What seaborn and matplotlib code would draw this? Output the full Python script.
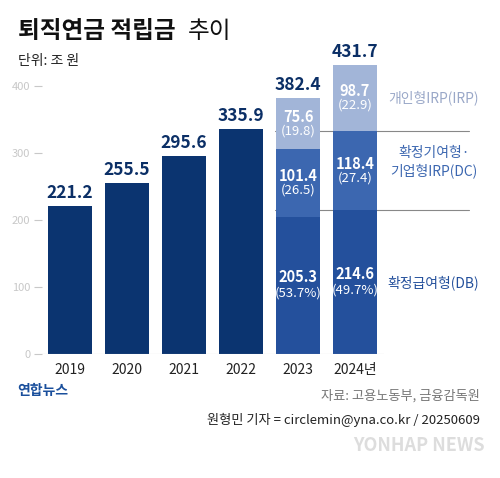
import matplotlib
matplotlib.use("Agg")
import matplotlib.pyplot as plt
import seaborn as sns
import pandas as pd

sns.set_theme(style="white")
plt.rcParams['font.family'] = ['Noto Sans CJK KR', 'DejaVu Sans']

years = ['2019', '2020', '2021', '2022', '2023', '2024년']
totals = [221.2, 255.5, 295.6, 335.9, 382.4, 431.7]
db = [205.3, 214.6]
dc = [101.4, 118.4]
irp = [75.6, 98.7]
db_pct = ['53.7%', '49.7%']
dc_pct = ['26.5', '27.4']
irp_pct = ['19.8', '22.9']

NAVY = '#0b3470'
DB_C = '#24509c'
DC_C = '#3c67b0'
IRP_C = '#a2b5d8'

fig = plt.figure(figsize=(5, 4.78), dpi=100)
ax = fig.add_axes([0.083, 0.259, 0.684, 0.631])

bar_kw = dict(width=0.78, saturation=1, linewidth=0, ax=ax)
df = pd.DataFrame({'year': years, 'total': totals})
top_colors = [NAVY] * 4 + [IRP_C] * 2
sns.barplot(data=df, x='year', y='total', hue='year', palette=top_colors,
            legend=False, **bar_kw)
df2 = pd.DataFrame({'year': years[4:], 'v': [a + b for a, b in zip(db, dc)]})
sns.barplot(data=df2, x='year', y='v', color=DC_C, order=years, **bar_kw)
df3 = pd.DataFrame({'year': years[4:], 'v': db})
sns.barplot(data=df3, x='year', y='v', color=DB_C, order=years, **bar_kw)

ax.set_xlim(-0.5, 5.5)
ax.set_ylim(0, 450)
ax.set_xlabel('')
ax.set_ylabel('')
for s in ax.spines.values():
    s.set_visible(False)
ax.set_yticks([0, 100, 200, 300, 400])
ax.tick_params(axis='y', colors='#c8c8c8', labelsize=8, length=6, width=0.8,
               left=True, pad=2, direction='out')
ax.tick_params(axis='x', labelsize=10, colors='#222222', length=0, pad=6)
ax.axhline(0, color='#bbbbbb', lw=0.8)

for i, t in enumerate(totals):
    ax.text(i, t + 6, f'{t}', ha='center', va='bottom', fontsize=12.5,
            fontweight='bold', color='#0b2f66')

# separator lines for 2024 segment boundaries
for yv in [db[1], db[1] + dc[1]]:
    ax.plot([3.6, 7.0], [yv, yv], color='#888888', lw=0.8, clip_on=False, zorder=0.5)

for j, i in enumerate([4, 5]):
    ax.text(i, db[j] / 2 + 12, f'{db[j]}', ha='center', va='center', color='white',
            fontsize=10.5, fontweight='bold')
    ax.text(i, db[j] / 2 - 12, f'({db_pct[j]})', ha='center', va='center',
            color='white', fontsize=9.5)
    mid = db[j] + dc[j] / 2
    ax.text(i, mid + 10, f'{dc[j]}', ha='center', va='center', color='white',
            fontsize=10.5, fontweight='bold')
    ax.text(i, mid - 11, f'({dc_pct[j]})', ha='center', va='center',
            color='white', fontsize=9.5)
    mid = db[j] + dc[j] + irp[j] / 2
    ax.text(i, mid + 10, f'{irp[j]}', ha='center', va='center', color='white',
            fontsize=10.5, fontweight='bold')
    ax.text(i, mid - 11, f'({irp_pct[j]})', ha='center', va='center',
            color='white', fontsize=9.5)

ax.text(6.38, 382, '개인형IRP(IRP)', ha='center', va='center', fontsize=10, color='#9aa8c8')
ax.text(6.38, 287, '확정기여형·\n기업형IRP(DC)', ha='center', va='center', fontsize=10,
        color='#3c67b0', linespacing=1.3)
ax.text(6.38, 107, '확정급여형(DB)', ha='center', va='center', fontsize=10, color='#24509c')

fig.text(0.035, 0.935, '퇴직연금 적립금', fontsize=17, fontweight='bold', color='#111111', va='center')
fig.text(0.375, 0.935, '추이', fontsize=17, color='#111111', va='center')
fig.text(0.035, 0.873, '단위: 조 원', fontsize=10, color='#222222', va='center')

fig.text(0.035, 0.182, '연합뉴스', fontsize=10, fontweight='bold', color='#1a4f9c', va='center')
fig.text(0.96, 0.172, '자료: 고용노동부, 금융감독원', fontsize=9.5, color='#777777', ha='right', va='center')
fig.text(0.96, 0.122, '원형민 기자 = circlemin@yna.co.kr / 20250609', fontsize=9.5,
         color='#222222', ha='right', va='center')
fig.text(0.97, 0.068, 'YONHAP NEWS', fontsize=13, fontweight='bold', color='#dddddd',
         ha='right', va='center', fontstyle='italic')

fig.savefig('out.png', dpi=100)
